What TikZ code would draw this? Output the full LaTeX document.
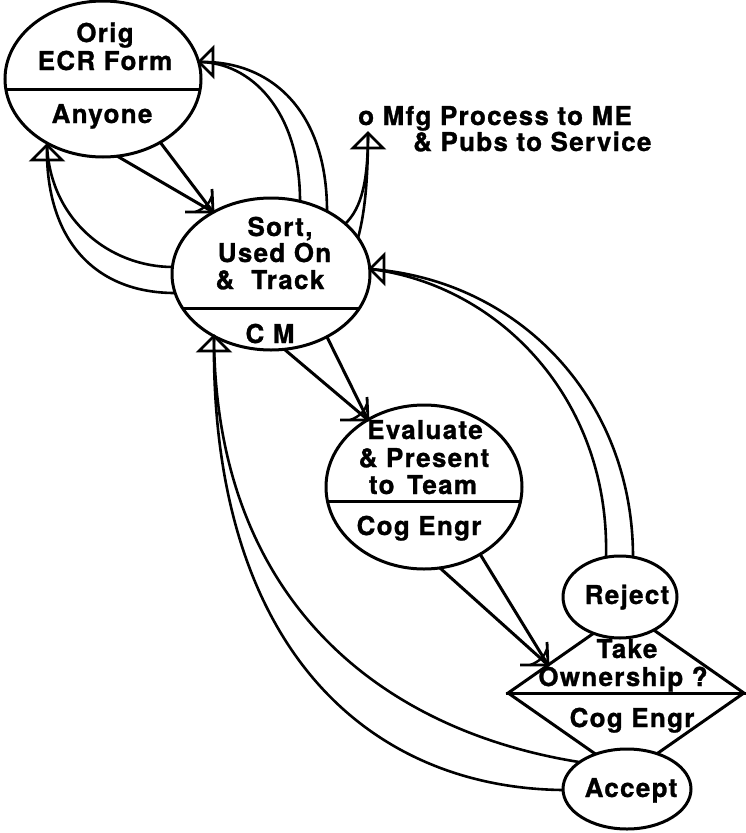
\documentclass[tikz,border=0pt]{standalone}
\usepackage{fontspec}
\usetikzlibrary{shapes.geometric,calc}
\newfontfamily\labfont[LetterSpace=5,FakeBold=1]{TeX Gyre Heros}
\begin{document}
\begin{tikzpicture}[x=1pt,y=-1pt,
  box/.style={draw,line width=3pt,fill=white,inner sep=0pt},
  oval/.style={box,ellipse},
  txt/.style={font=\labfont\bfseries\fontsize{26}{28}\selectfont,inner sep=0pt,anchor=base},
  link/.style={line width=3pt},
  curveline/.style={line width=2.6pt},
  barbhead/.pic={
    \draw[line width=2.8pt] (-1,-23) -- (0,0) -- (-28,0);
    \draw[line width=2.4pt] (-18,0) .. controls (-9,-3) and (-3,-9) .. (-1,-16);},
  headleft/.pic={\draw[line width=2.8pt,line join=miter] (0,0) -- (14,-14) -- (14,14) -- cycle;},
  headup/.pic={\draw[line width=2.8pt,line join=miter] (0,0) -- (-15,15) -- (15,15) -- cycle;}
]
\useasboundingbox (0,0) rectangle (746,833);

% process steps
\node[oval,minimum width=196pt,minimum height=156pt] (orig) at (103,79) {};
\node[oval,minimum width=198pt,minimum height=152pt] (sort) at (271,274) {};
\node[oval,minimum width=196pt,minimum height=164pt] (eval) at (424,487) {};
\node[box,diamond,minimum width=237pt,minimum height=166pt] (own) at (626,693) {};
\node[oval,minimum width=114pt,minimum height=82pt] (reject) at (620,597) {};
\node[oval,minimum width=128pt,minimum height=80pt] (accept) at (627,789) {};

% role dividers
\draw[link] ($(orig)+(-97,10)$) -- ($(orig)+(97,10)$);
\draw[link] ($(sort)+(-88,34)$) -- ($(sort)+(88,34)$);
\draw[link] ($(eval)+(-96.5,14)$) -- ($(eval)+(96.5,14)$);
\draw[link] (own.west) -- (own.east);

% labels
\node[txt] (origA) at (105,42) {Orig};
\node[txt] (origB) at (105,70) {ECR Form};
\node[txt] (origR) at (102,123) {Anyone};
\node[txt] (sortA) at (280,236) {Sort,};
\node[txt] (sortB) at (274.5,262) {Used On};
\node[txt] (sortC) at (270,289) {\&\ \ Track};
\node[txt] (sortR) at (270,343) {C M};
\node[txt] (evalA) at (425,439) {Evaluate};
\node[txt] (evalB) at (424,467) {\& Present};
\node[txt] (evalC) at (423,494) {to\hspace{4pt} Team};
\node[txt] (evalR) at (419,535) {Cog Engr};
\node[txt] (rejT) at (627,604) {Reject};
\node[txt] (ownA) at (627,658) {Take};
\node[txt] (ownB) at (623,686) {Ownership ?};
\node[txt] (ownR) at (632,727) {Cog Engr};
\node[txt] (accT) at (631,797) {Accept};
\node[txt,anchor=base west] (mfgA) at (358,125) {o Mfg Process to ME};
\node[txt,anchor=base west] (mfgB) at (413,151) {\& Pubs to Service};

% arrow tips
\coordinate (tA) at ($(sort)+(-58,-62)$);
\coordinate (tB) at ($(eval)+(-56,-67)$);
\coordinate (tC) at ($(own)+(-78,-28)$);
\coordinate (tD) at ($(orig)+(96,-17)$);
\coordinate (tE) at ($(orig)+(-56,66)$);
\coordinate (tF) at (368,133);
\coordinate (tG) at ($(sort)+(99,-5)$);
\coordinate (tH) at ($(sort)+(-57,62)$);

% forward flow
\draw[link] ($(orig)+(14,77)$) -- (tA);
\draw[link] ($(orig)+(57,63)$) -- (tA);
\draw[link] ($(sort)+(13,75)$) -- (tB);
\draw[link] ($(sort)+(56,63)$) -- (tB);
\draw[link] ($(eval)+(16,81)$) -- (tC);
\draw[link] ($(eval)+(56,67)$) -- (tC);
\pic at (tA) {barbhead};
\pic at (tB) {barbhead};
\pic at (tC) {barbhead};

% returns to originator
\draw[curveline] ($(sort)+(29,-73)$) .. controls (300,110) and (250,62) .. (tD);
\draw[curveline] ($(sort)+(56,-63)$) .. controls (327,110) and (270,60) .. (tD);
\draw[curveline] ($(sort)+(-98,-7)$) .. controls (110,267) and (50,220) .. (tE);
\draw[curveline] ($(sort)+(-96,19)$) .. controls (95,293) and (45,240) .. (tE);
\pic at (tD) {headleft};
\pic at (tE) {headup};

% release to manufacturing and service
\draw[curveline] ($(sort)+(74,-50)$) .. controls (362,208) and (368,180) .. (tF);
\draw[curveline] ($(sort)+(87,-36)$) .. controls (364,216) and (368,185) .. (tF);
\pic at (tF) {headup};

% reject path
\draw[curveline] ($(reject)+(-14,-40)$) .. controls (610,400) and (500,285) .. (tG);
\draw[curveline] ($(reject)+(13,-40)$) .. controls (633,400) and (520,280) .. (tG);
\pic at (tG) {headleft};

% accept path
\draw[curveline] ($(accept)+(-48,-27)$) .. controls (380,730) and (215,600) .. (tH);
\draw[curveline] ($(accept)+(-64,1)$) .. controls (370,788) and (210,650) .. (tH);
\pic at (tH) {headup};
\end{tikzpicture}
\end{document}
